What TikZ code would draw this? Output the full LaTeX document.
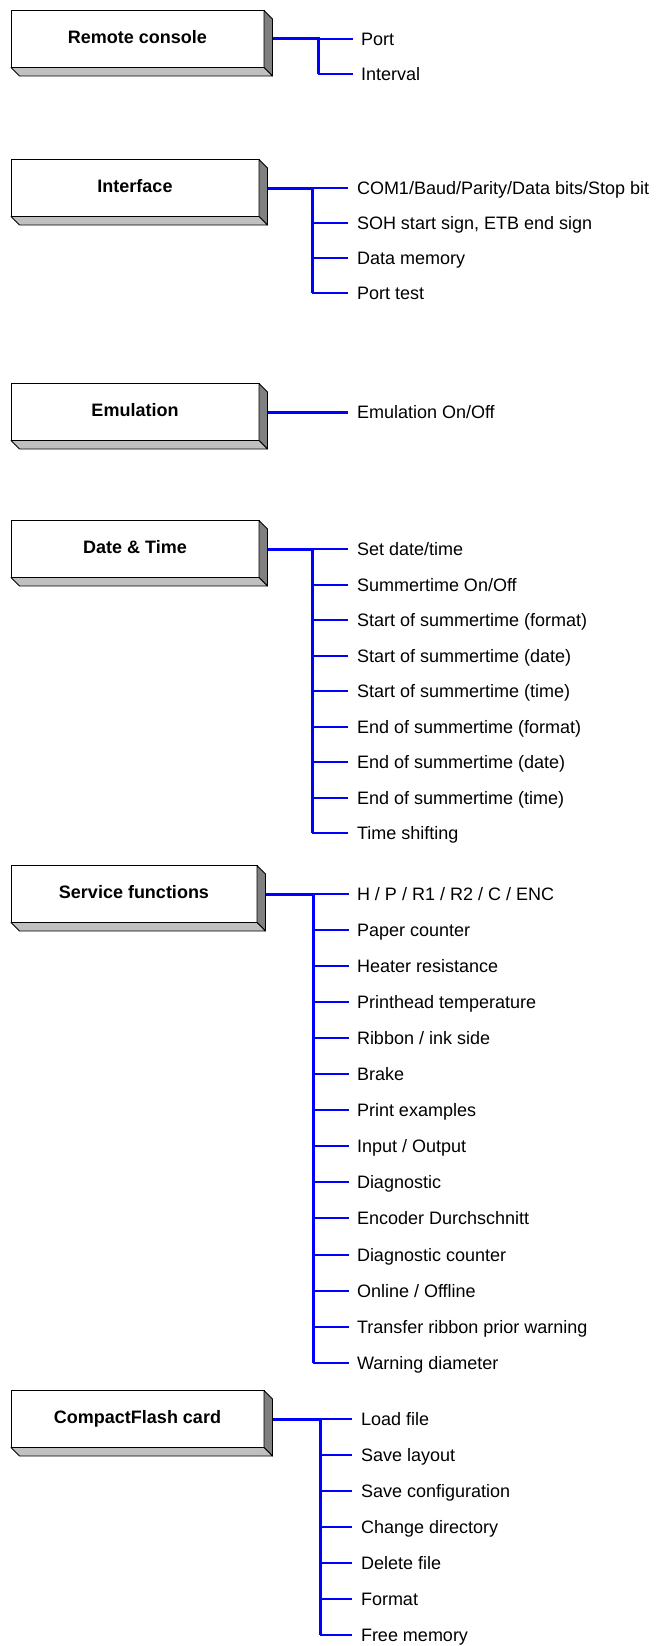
\documentclass[tikz,border=0pt]{standalone}
\usepackage{fontspec}
\setmainfont{Liberation Sans}
\usetikzlibrary{positioning}
\usepackage{xcolor}
\definecolor{linkc}{RGB}{0,0,255}
\definecolor{sidec}{RGB}{128,128,128}
\definecolor{basec}{RGB}{192,192,192}
\tikzset{
  menu/.style={draw=black, line width=0.8pt, fill=white, anchor=west, minimum width=248pt, minimum height=57pt, inner sep=0pt, outer sep=0pt, text height=13pt, text depth=4pt, font=\fontsize{18}{21}\selectfont\bfseries},
  item/.style={anchor=west, inner sep=0pt, outer sep=0pt, text height=13pt, text depth=0pt, font=\fontsize{18}{21}\selectfont},
  trunk/.style={linkc, line width=3pt},
  twig/.style={linkc, line width=2pt},
  sideface/.style={draw=black, line width=0.8pt, fill=sidec, line join=round},
  baseface/.style={draw=black, line width=0.8pt, fill=basec, line join=round}
}

\begin{document}
\begin{tikzpicture}[x=1pt, y=-1pt]
  \useasboundingbox (0,0) rectangle (658,1646);

  % menus
  \node[menu, minimum width=253pt] (rc) at (11,39) {Remote console};
  \node[menu] (intf) at (11,188) {Interface};
  \node[menu] (emu) at (11,412) {Emulation};
  \node[menu] (dt) at (11,549) {Date \& Time};
  \node[menu, minimum width=246pt] (sf) at (11,894) {Service functions};
  \node[menu, minimum width=253pt] (cf) at (11,1419) {CompactFlash card};

  % shaded faces
  \foreach \b in {rc,intf,emu,dt,sf,cf}{
    \filldraw[sideface] (\b.north east) -- ++(8.5,8.5) -- ([xshift=8.5pt,yshift=-8.5pt]\b.south east) -- (\b.south east) -- cycle;
    \filldraw[baseface] (\b.south west) -- ++(8.5,8.5) -- ([xshift=8.5pt,yshift=-8.5pt]\b.south east) -- (\b.south east) -- cycle;
  }

  % entries
  \foreach \t [count=\i] in {Port, Interval}
    \node[item] (rc\i) at (361,{39+35*(\i-1)}) {\t};
  \foreach \t [count=\i] in {COM1/Baud/Parity/Data bits/Stop bit, {SOH start sign, ETB end sign}, Data memory, Port test}
    \node[item] (intf\i) at (357,{188+35*(\i-1)}) {\t};
  \node[item] (emu1) at (357,412) {Emulation On/Off};
  \foreach \t [count=\i] in {Set date/time, Summertime On/Off, Start of summertime (format), Start of summertime (date), Start of summertime (time), End of summertime (format), End of summertime (date), End of summertime (time), Time shifting}
    \node[item] (dt\i) at (357,{549+35.5*(\i-1)}) {\t};
  \foreach \t [count=\i] in {H / P / R1 / R2 / C / ENC, Paper counter, Heater resistance, Printhead temperature, Ribbon / ink side, Brake, Print examples, Input / Output, Diagnostic, Encoder Durchschnitt, Diagnostic counter, Online / Offline, Transfer ribbon prior warning, Warning diameter}
    \node[item] (sf\i) at (357,{894+36.05*(\i-1)}) {\t};
  \foreach \t [count=\i] in {Load file, Save layout, Save configuration, Change directory, Delete file, Format, Free memory}
    \node[item] (cf\i) at (361,{1419+36*(\i-1)}) {\t};

  % trees
  \coordinate (rcv) at (318,0);
  \coordinate (intfv) at (312,0);
  \coordinate (dtv) at (312,0);
  \coordinate (sfv) at (313,0);
  \coordinate (cfv) at (320,0);

  \draw[trunk] ([xshift=8.5pt]rc.east) -| (rc2.west -| rcv);
  \draw[trunk] ([xshift=8.5pt]intf.east) -| (intf4.west -| intfv);
  \draw[trunk] ([xshift=8.5pt]emu.east) -- ([xshift=-9pt]emu1.west);
  \draw[trunk] ([xshift=8.5pt]dt.east) -| (dt9.west -| dtv);
  \draw[trunk] ([xshift=8.5pt]sf.east) -| (sf14.west -| sfv);
  \draw[trunk] ([xshift=8.5pt]cf.east) -| (cf7.west -| cfv);

  \foreach \i in {1,2} \draw[twig] (rc\i.west -| rcv) -- ([xshift=-8pt]rc\i.west);
  \foreach \i in {1,...,4} \draw[twig] (intf\i.west -| intfv) -- ([xshift=-9pt]intf\i.west);
  \foreach \i in {1,...,9} \draw[twig] (dt\i.west -| dtv) -- ([xshift=-9pt]dt\i.west);
  \foreach \i in {1,...,14} \draw[twig] (sf\i.west -| sfv) -- ([xshift=-8pt]sf\i.west);
  \foreach \i in {1,...,7} \draw[twig] (cf\i.west -| cfv) -- ([xshift=-9pt]cf\i.west);
\end{tikzpicture}
\end{document}
